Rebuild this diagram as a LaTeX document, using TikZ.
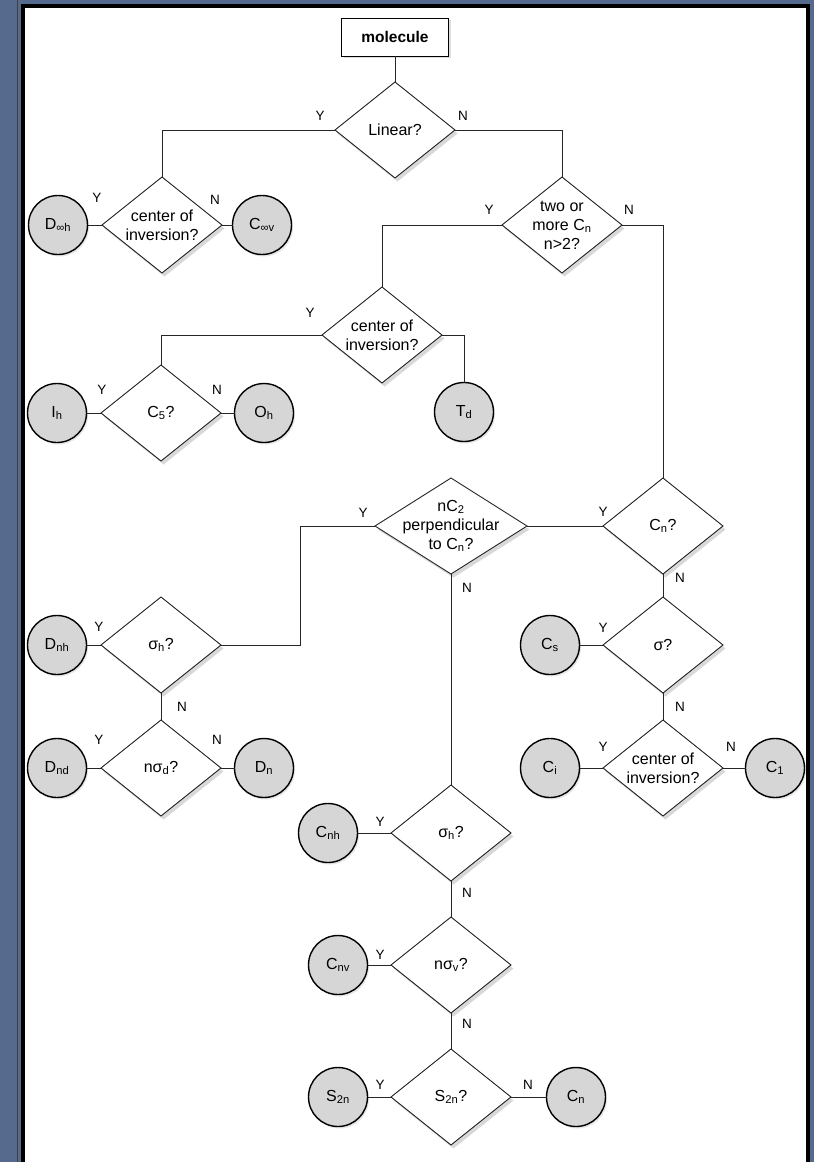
\documentclass[tikz,border=0pt]{standalone}
\usepackage{fontspec}
\setmainfont{Liberation Sans}
\usetikzlibrary{shapes.geometric,shadows}
\definecolor{slateblue}{RGB}{86,106,142}
\definecolor{resultgray}{RGB}{214,214,214}

\begin{document}
\begin{tikzpicture}[x=1pt,y=-1pt,
  startbox/.style={rectangle,draw=black,fill=white,line width=0.9pt,minimum width=107pt,minimum height=38pt,font=\fontsize{15.5}{18}\selectfont\bfseries,drop shadow={shadow xshift=2pt,shadow yshift=-2pt,opacity=0.25}},
  decision/.style={diamond,draw=black!85,fill=white,line width=0.9pt,aspect=1.25,minimum width=120pt,minimum height=96pt,inner xsep=-14pt,inner ysep=-6pt,outer sep=0pt,align=center,font=\fontsize{16}{19}\selectfont,drop shadow={shadow xshift=2.5pt,shadow yshift=-3.5pt,opacity=0.3}},
  result/.style={circle,draw=black,fill=resultgray,line width=1.4pt,minimum size=59pt,inner sep=0pt,outer sep=0pt,font=\fontsize{16}{18}\selectfont,drop shadow={shadow xshift=1.5pt,shadow yshift=-2pt,opacity=0.2}},
  yn/.style={font=\fontsize{13.5}{13.5}\selectfont,inner sep=0pt},
  link/.style={draw=black!85,line width=0.8pt}]
  \useasboundingbox (0,0) rectangle (814,1162);
  \clip (0,0) rectangle (814,1162);
  % Background and panel
  \fill[slateblue] (0,0) rectangle (814,1162);
  \draw[black!75,line width=1.2pt] (17.5,0) -- (17.5,1162);
  \fill[white] (23,6) rectangle (808,1170);
  \draw[line width=4.5pt] (23,6) rectangle (808,1175);
  % Decisions
  \node[startbox] (mol) at (395,37) {molecule};
  \node[decision] (lin) at (395,130) {Linear?};
  \node[decision] (inv1) at (162,225) {center of\\inversion?};
  \node[decision] (more) at (562,225) {two or\\more C\textsubscript{n}\\n>2?};
  \node[decision] (inv2) at (382,335) {center of\\inversion?};
  \node[decision] (c5) at (161,413) {C\textsubscript{5}?};
  \node[decision,aspect=1.6,minimum width=152pt] (nc2) at (451,526) {nC\textsubscript{2}\\perpendicular\\to C\textsubscript{n}?};
  \node[decision] (cn) at (663,526) {C\textsubscript{n}?};
  \node[decision] (sigh1) at (161,645) {σ\textsubscript{h}?};
  \node[decision] (nsigd) at (161,768) {nσ\textsubscript{d}?};
  \node[decision] (sig) at (663,645) {σ?};
  \node[decision] (inv3) at (663,768) {center of\\inversion?};
  \node[decision] (sigh2) at (451,833) {σ\textsubscript{h}?};
  \node[decision] (nsigv) at (451,965) {nσ\textsubscript{v}?};
  \node[decision] (s2n) at (451,1097) {S\textsubscript{2n}?};
  % Point groups
  \node[result] (dinfh) at (58,225) {D\textsubscript{∞h}};
  \node[result] (cinfv) at (262,225) {C\textsubscript{∞v}};
  \node[result] (ih) at (57,413) {I\textsubscript{h}};
  \node[result] (oh) at (264,413) {O\textsubscript{h}};
  \node[result] (td) at (464,412) {T\textsubscript{d}};
  \node[result] (dnh) at (57,645) {D\textsubscript{nh}};
  \node[result] (dnd) at (57,768) {D\textsubscript{nd}};
  \node[result] (dn) at (264,768) {D\textsubscript{n}};
  \node[result] (cs) at (550,645) {C\textsubscript{s}};
  \node[result] (ci) at (550,768) {C\textsubscript{i}};
  \node[result] (c1) at (775,768) {C\textsubscript{1}};
  \node[result] (cnh) at (328,833) {C\textsubscript{nh}};
  \node[result] (cnv) at (338,965) {C\textsubscript{nv}};
  \node[result] (s2nr) at (338,1097) {S\textsubscript{2n}};
  \node[result] (cnr) at (576,1097) {C\textsubscript{n}};
  \coordinate (nc2bend) at (300,526);
  % Connectors
  \draw[link] (mol.south) -- (lin.north);
  \draw[link] (lin.west) -| (inv1.north);
  \draw[link] (lin.east) -| (more.north);
  \draw[link] (inv1.west) -- (dinfh.east);
  \draw[link] (inv1.east) -- (cinfv.west);
  \draw[link] (more.west) -| (inv2.north);
  \draw[link] (more.east) -| (cn.north);
  \draw[link] (inv2.west) -| (c5.north);
  \draw[link] (inv2.east) -| (td.north);
  \draw[link] (c5.west) -- (ih.east);
  \draw[link] (c5.east) -- (oh.west);
  \draw[link] (cn.west) -- (nc2.east);
  \draw[link] (nc2.west) -- (nc2bend) |- (sigh1.east);
  \draw[link] (nc2.south) -- (sigh2.north);
  \draw[link] (sigh1.west) -- (dnh.east);
  \draw[link] (sigh1.south) -- (nsigd.north);
  \draw[link] (nsigd.west) -- (dnd.east);
  \draw[link] (nsigd.east) -- (dn.west);
  \draw[link] (cn.south) -- (sig.north);
  \draw[link] (sig.west) -- (cs.east);
  \draw[link] (sig.south) -- (inv3.north);
  \draw[link] (inv3.west) -- (ci.east);
  \draw[link] (inv3.east) -- (c1.west);
  \draw[link] (sigh2.west) -- (cnh.east);
  \draw[link] (sigh2.south) -- (nsigv.north);
  \draw[link] (nsigv.west) -- (cnv.east);
  \draw[link] (nsigv.south) -- (s2n.north);
  \draw[link] (s2n.west) -- (s2nr.east);
  \draw[link] (s2n.east) -- (cnr.west);
  % Y / N labels
  \node[yn] (linY) at (320,116) {Y};
  \node[yn] (linN) at (463,116) {N};
  \node[yn] (inv1Y) at (97,198) {Y};
  \node[yn] (inv1N) at (215,200) {N};
  \node[yn] (moreY) at (489,210) {Y};
  \node[yn] (moreN) at (629,210) {N};
  \node[yn] (inv2Y) at (310,313) {Y};
  \node[yn] (c5Y) at (102,390) {Y};
  \node[yn] (c5N) at (217,390) {N};
  \node[yn] (nc2Y) at (363,513) {Y};
  \node[yn] (nc2N) at (467,588) {N};
  \node[yn] (cnY) at (603,512) {Y};
  \node[yn] (cnN) at (680,578) {N};
  \node[yn] (sigh1Y) at (99,627) {Y};
  \node[yn] (sigh1N) at (182,707) {N};
  \node[yn] (nsigdY) at (99,740) {Y};
  \node[yn] (nsigdN) at (217,740) {N};
  \node[yn] (sigY) at (603,628) {Y};
  \node[yn] (sigN) at (680,707) {N};
  \node[yn] (inv3Y) at (603,747) {Y};
  \node[yn] (inv3N) at (731,747) {N};
  \node[yn] (sigh2Y) at (380,822) {Y};
  \node[yn] (sigh2N) at (467,893) {N};
  \node[yn] (nsigvY) at (380,955) {Y};
  \node[yn] (nsigvN) at (467,1024) {N};
  \node[yn] (s2nY) at (380,1085) {Y};
  \node[yn] (s2nN) at (528,1085) {N};
\end{tikzpicture}
\end{document}
